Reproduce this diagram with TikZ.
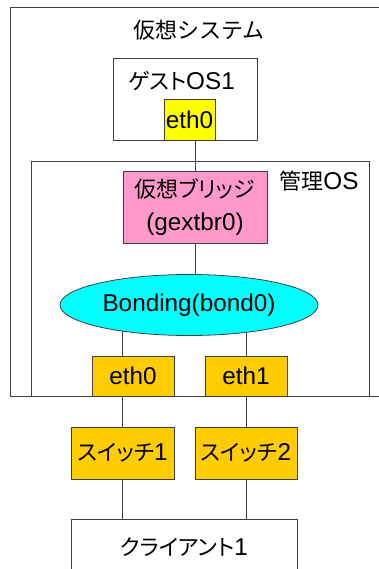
\documentclass[tikz,border=0pt]{standalone}
\usepackage{fontspec}
\setmainfont{Liberation Sans}
\newfontfamily\jp{Noto Sans CJK JP}
\newfontfamily\jpp[RawFeature=+palt]{Noto Sans CJK JP}
\usetikzlibrary{shapes.geometric,backgrounds}
\definecolor{ln}{HTML}{404040}
\definecolor{pinkc}{HTML}{FF99CC}
\definecolor{cyanc}{HTML}{00FFFF}
\definecolor{goldc}{HTML}{FFCC00}
\definecolor{yellowc}{HTML}{FFFF00}
\begin{document}
\begin{tikzpicture}[x=1pt,y=-1pt,
  every node/.style={font=\fontsize{24.3}{28}\selectfont},
  box/.style={draw=ln, line width=0.8pt, rectangle, inner sep=0pt},
  lbl/.style={inner sep=0pt},
  conn/.style={draw=ln, line width=0.8pt}]
\useasboundingbox (0,0) rectangle (379,569);
\clip (0,0) rectangle (379,569);
% frames
\node[box, minimum width=380, minimum height=389] (sys) at (200,201.5) {};
\node[lbl] (sysl) at (199,30) {\fontsize{22}{26}\jp 仮想システム};
\node[box, minimum width=144, minimum height=82] (guest) at (185,99) {};
\node[lbl] (guestl) at (181.5,81) {{\fontsize{22}{26}\jpp ゲスト}OS1};
\node[box, fill=yellowc, minimum width=51, minimum height=41] (geth) at (189.5,119.5) {eth0};
\node[box, minimum width=338, minimum height=235] (mgmt) at (200,278.5) {};
\node[lbl] (mgmtl) at (319,181) {{\fontsize{22}{26}\jp 管理}OS};
\node[box, fill=pinkc, minimum width=144, minimum height=72, align=center,
  font=\fontsize{24.3}{33}\selectfont] (bridge) at (195,207) {{\fontsize{22}{33}\jpp 仮想ブリッジ}\\(gextbr0)};
\node[draw=ln, line width=0.8pt, ellipse, fill=cyanc, minimum width=258,
  minimum height=61, inner sep=0pt] (bond) at (189,305) {Bonding(bond0)};
\node[box, fill=goldc, minimum width=82, minimum height=40] (eth0) at (133,376) {eth0};
\node[box, fill=goldc, minimum width=82, minimum height=40] (eth1) at (246,376) {eth1};
\node[box, fill=goldc, minimum width=103, minimum height=52] (sw1) at (122.5,453) {{\fontsize{22}{26}\jpp スイッチ}1};
\node[box, fill=goldc, minimum width=102, minimum height=52] (sw2) at (246,453) {{\fontsize{22}{26}\jpp スイッチ}2};
\node[box, fill=white, minimum width=226, minimum height=56, anchor=north] (client) at (184,519) {{\fontsize{22}{26}\jpp クライアント}1};
\begin{pgfonlayer}{background}
  \fill[white] (0,0) rectangle (379,569);
  \draw[conn] (bridge.north |- geth.south) -- (bridge.north);
  \draw[conn] (bridge.south) -- (bridge.south |- bond.center);
  \draw[conn] (sw1.north |- bond.center) -- (sw1.north |- eth0.north);
  \draw[conn] (sw1.north |- eth0.south) -- (sw1.north);
  \draw[conn] (sw1.south) -- (sw1.south |- client.north);
  \draw[conn] (eth1.north |- bond.center) -- (eth1.north);
  \draw[conn] (eth1.south) -- (sw2.north);
  \draw[conn] (sw2.south) -- (sw2.south |- client.north);
\end{pgfonlayer}
\end{tikzpicture}
\end{document}
